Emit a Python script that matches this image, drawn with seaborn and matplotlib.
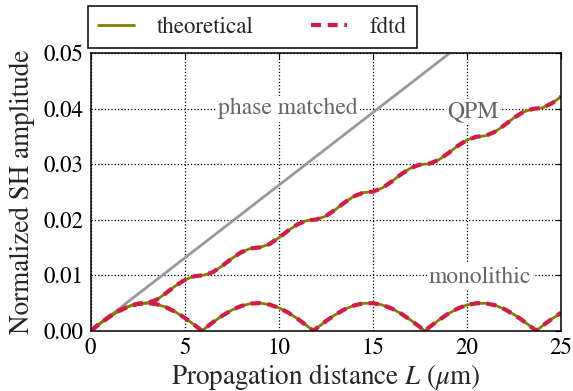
import matplotlib
matplotlib.use("Agg")
import matplotlib.pyplot as plt
import seaborn as sns

# propagation distance grid (um)
dist = [0, 0.5, 1, 1.5, 2, 2.5, 3, 3.5, 4, 4.5, 5, 5.5, 6, 6.5, 7, 7.5, 8, 8.5,
        9, 9.5, 10, 10.5, 11, 11.5, 12, 12.5, 13, 13.5, 14, 14.5, 15, 15.5, 16,
        16.5, 17, 17.5, 18, 18.5, 19, 19.5, 20, 20.5, 21, 21.5, 22, 22.5, 23,
        23.5, 24, 24.5, 25]

# QPM amplitude
qpm_amp = [0.0, 0.00131, 0.00253, 0.00357, 0.00437, 0.00485,
           0.00500, 0.00557, 0.00676, 0.00806, 0.00914, 0.00981,
           0.01001, 0.01056, 0.01169, 0.01300, 0.01413, 0.01483,
           0.01502, 0.01560, 0.01673, 0.01804, 0.01917, 0.01986,
           0.02004, 0.02065, 0.02180, 0.02311, 0.02422, 0.02489,
           0.02506, 0.02571, 0.02687, 0.02818, 0.02929, 0.02992,
           0.03009, 0.03078, 0.03196, 0.03327, 0.03435, 0.03494,
           0.03512, 0.03586, 0.03705, 0.03836, 0.03941, 0.03996,
           0.04015, 0.04093, 0.04215]

# monolithic amplitude (zeros at the coherence points)
mono_dist = [0, 0.5, 1, 1.5, 2, 2.5, 3, 3.5, 4, 4.5, 5, 5.5, 5.92,
             6, 6.5, 7, 7.5, 8, 8.5, 9, 9.5, 10, 10.5, 11, 11.5, 11.84,
             12, 12.5, 13, 13.5, 14, 14.5, 15, 15.5, 16, 16.5, 17, 17.5, 17.76,
             18, 18.5, 19, 19.5, 20, 20.5, 21, 21.5, 22, 22.5, 23, 23.5, 23.68,
             24, 24.5, 25]
mono_amp = [0.0, 0.00131, 0.00253, 0.00357, 0.00437, 0.00485, 0.00500, 0.00480,
            0.00426, 0.00342, 0.00235, 0.00111, 0.0,
            0.00021, 0.00152, 0.00271, 0.00372, 0.00446, 0.00490, 0.00499, 0.00473,
            0.00415, 0.00328, 0.00217, 0.00090, 0.0,
            0.00042, 0.00172, 0.00289, 0.00386, 0.00456, 0.00494, 0.00497, 0.00466,
            0.00402, 0.00310, 0.00196, 0.00069, 0.0,
            0.00063, 0.00191, 0.00306, 0.00399, 0.00464, 0.00496, 0.00495, 0.00459,
            0.00390, 0.00293, 0.00177, 0.00048, 0.0,
            0.00084, 0.00211, 0.00322]

# fdtd runs sit on top of the theory
fdtd_qpm = list(qpm_amp)
fdtd_mono = list(mono_amp)

# phase matched growth
pm_dist = [0, 25]
pm_amp = [0, 0.0655]

sns.set_style("white")
plt.rcParams['font.family'] = ['STIXGeneral', 'DejaVu Serif']
plt.rcParams['mathtext.fontset'] = 'stix'

fig = plt.figure(figsize=(5.73, 3.91), dpi=100)
ax = fig.add_axes([0.158, 0.154, 0.821, 0.71])

sns.lineplot(x=pm_dist, y=pm_amp, ax=ax, color='#999999', lw=2)
sns.lineplot(x=mono_dist, y=mono_amp, ax=ax, color='olive', lw=2)
sns.lineplot(x=dist, y=qpm_amp, ax=ax, color='olive', lw=2)
sns.lineplot(x=mono_dist, y=fdtd_mono, ax=ax, color='#d61a46', lw=3,
             linestyle=(0, (2.4, 1.6)))
sns.lineplot(x=dist, y=fdtd_qpm, ax=ax, color='#d61a46', lw=3,
             linestyle=(0, (2.4, 1.6)))

ax.set_xlim(0, 25)
ax.set_ylim(0, 0.05)
ax.set_xticks([0, 5, 10, 15, 20, 25])
ax.set_yticks([0, 0.01, 0.02, 0.03, 0.04, 0.05])
ax.set_yticklabels(['0.00', '0.01', '0.02', '0.03', '0.04', '0.05'])
ax.grid(True, color='black', linestyle=':', lw=0.9)
ax.set_axisbelow(True)
for s in ax.spines.values():
    s.set_color('black')
    s.set_linewidth(1.1)
ax.tick_params(direction='in', top=True, right=True, length=4, width=0.8,
               labelsize=16.5, colors='black', pad=5)

ax.set_xlabel(r'Propagation distance $L$ ($\mu$m)', fontsize=19.5, labelpad=2)
ax.set_ylabel('Normalized SH amplitude', fontsize=19.5, labelpad=6)

box = dict(facecolor='white', edgecolor='none', pad=1.5)
ax.text(10.5, 0.040, 'phase matched', fontsize=17, color='#666666',
        ha='center', va='center', bbox=box, zorder=1.5)
ax.text(20.3, 0.0394, 'QPM', fontsize=17, color='#666666',
        ha='center', va='center', bbox=box, zorder=1.5)
ax.text(20.7, 0.0097, 'monolithic', fontsize=17, color='#666666',
        ha='center', va='center', bbox=box, zorder=1.5)

lines = ax.get_lines()
leg = ax.legend([lines[1], lines[3]], ['theoretical', 'fdtd'], ncol=2,
                loc='lower left', bbox_to_anchor=(-0.006, 1.019, 0.70, 0.148),
                mode='expand', borderaxespad=0, fontsize=16.5, handlelength=1.55,
                handletextpad=1.0, borderpad=0.45, fancybox=False,
                framealpha=1, edgecolor='black')
leg.get_frame().set_linewidth(1.1)

fig.savefig('out.png', dpi=100)
